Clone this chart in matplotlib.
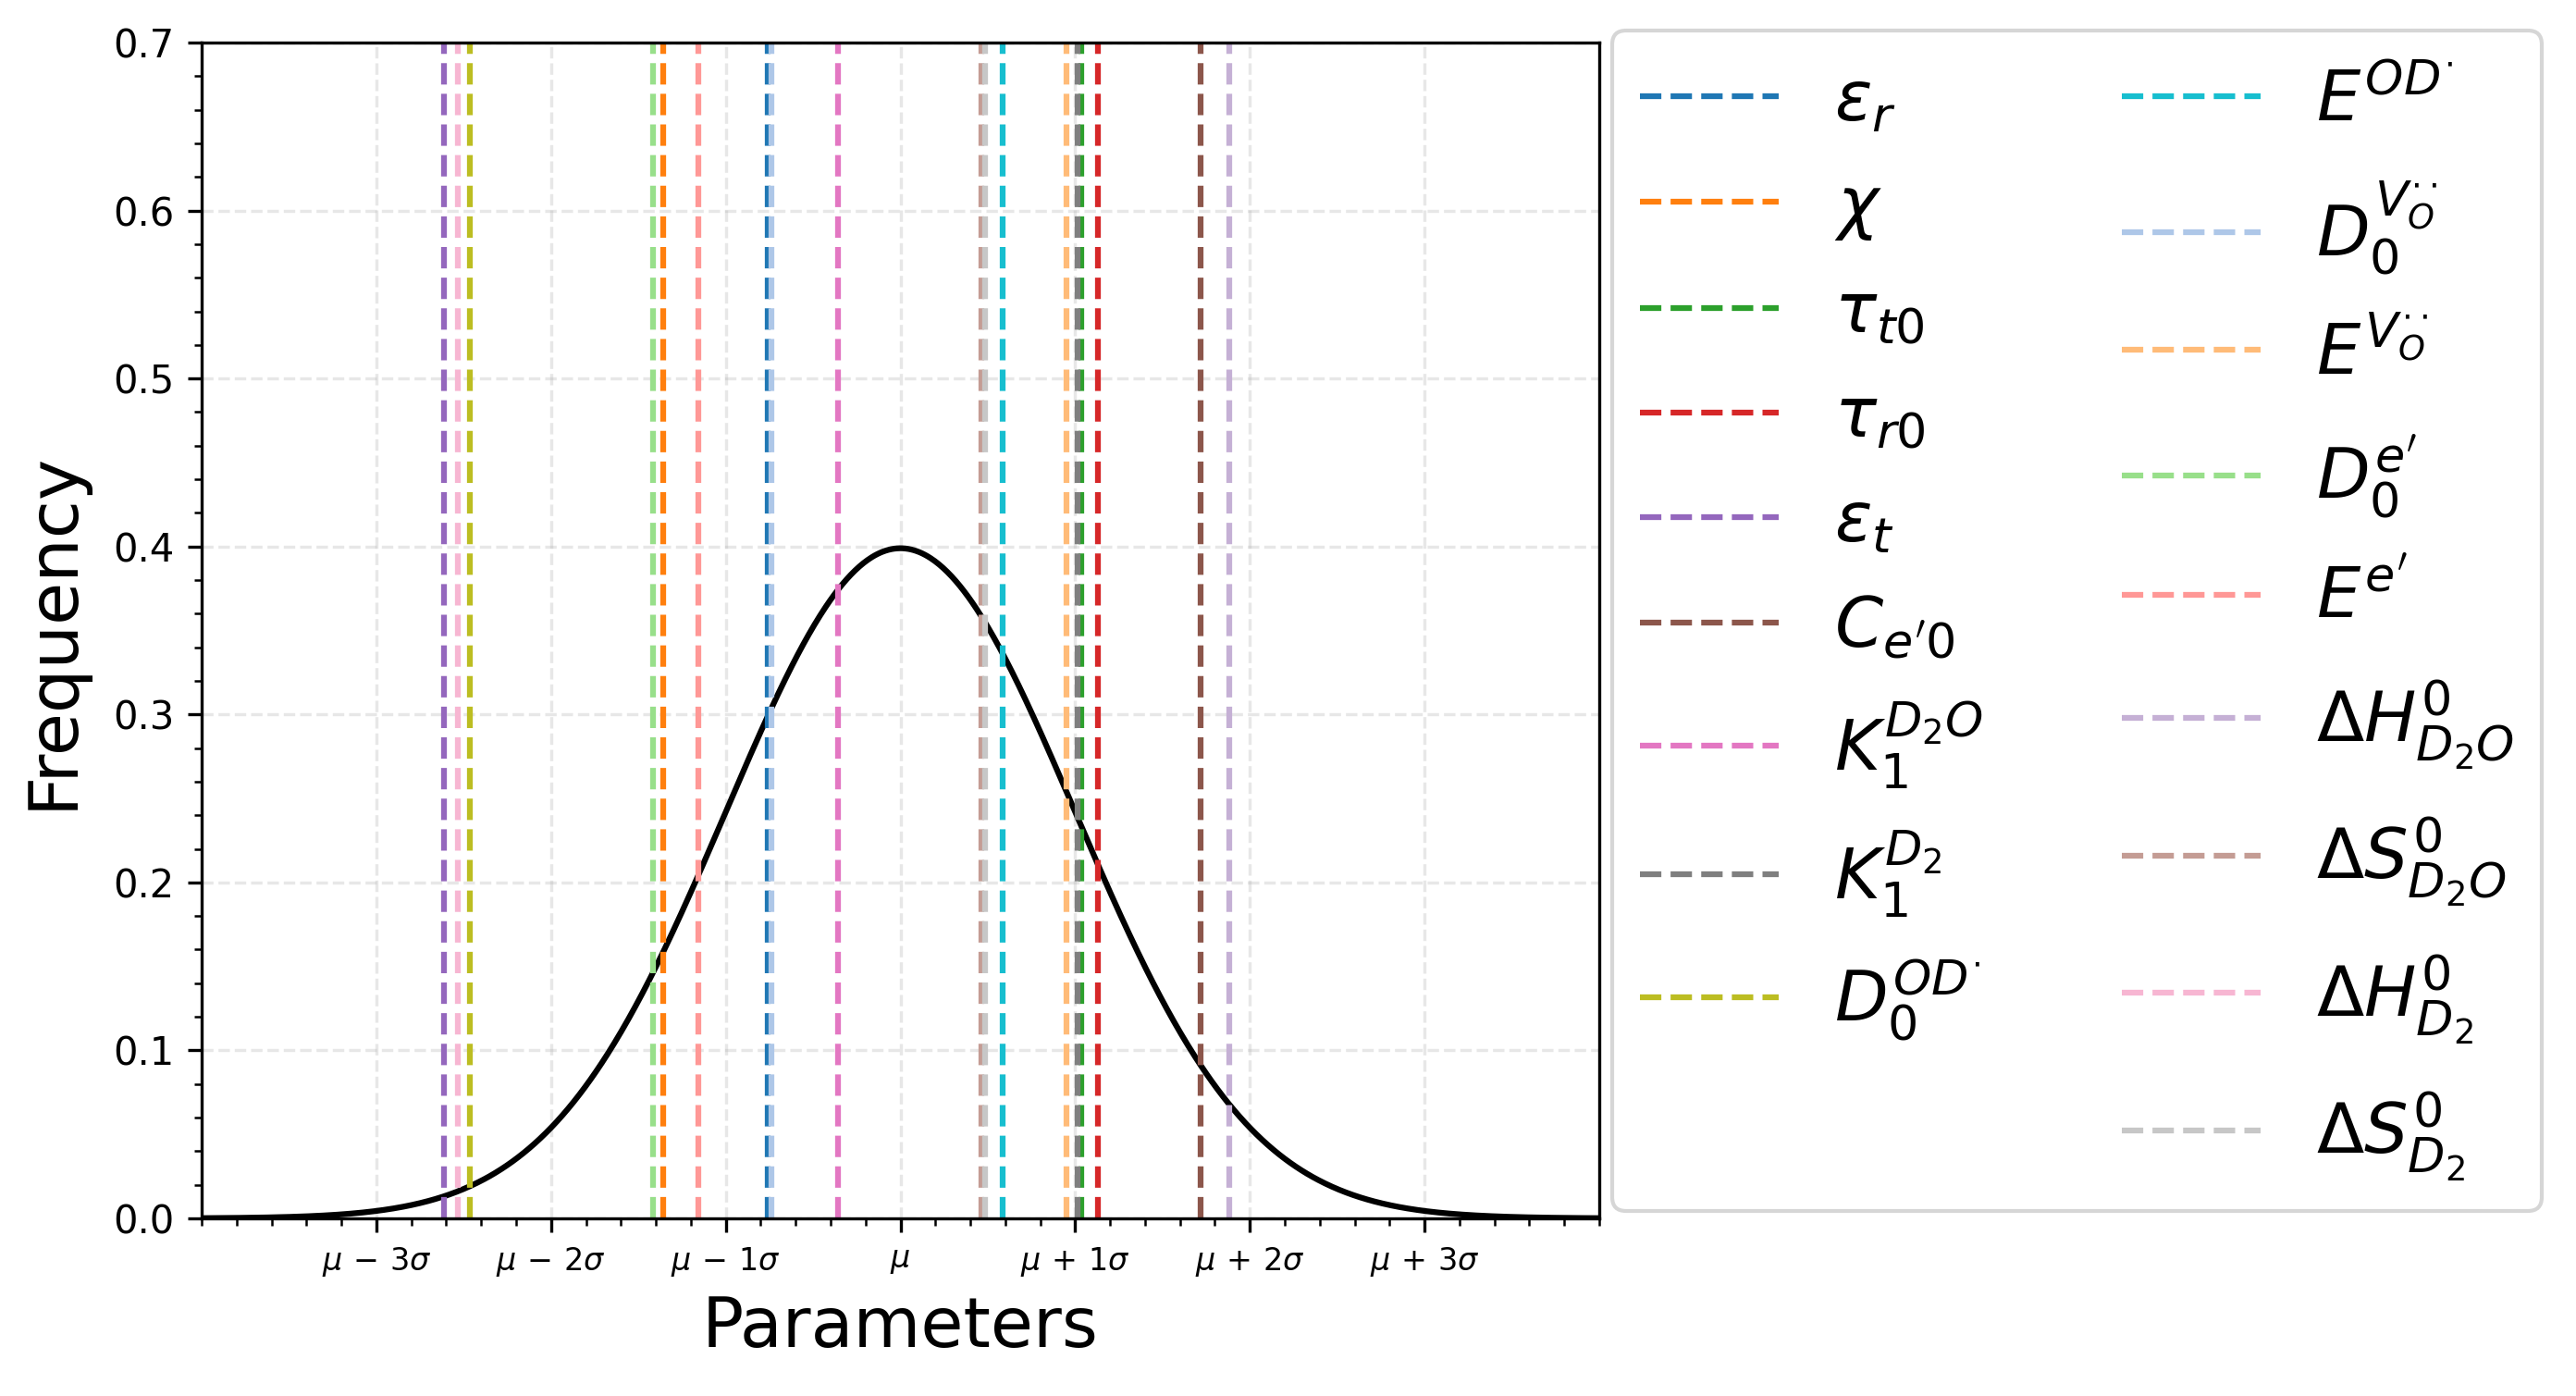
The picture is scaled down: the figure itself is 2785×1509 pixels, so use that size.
import numpy as np
import matplotlib
matplotlib.use("Agg")
import matplotlib.pyplot as plt
from matplotlib.ticker import AutoMinorLocator

# ---- data ----
mu = 0.0
sigma = 1.0
param_labels = [
    r'$\varepsilon_r$', r'$\chi$', r'$\tau_{t0}$', r'$\tau_{r0}$', r'$\varepsilon_t$',
    r"$C_{e'0}$", r'$K_1^{D_2O}$', r'$K_1^{D_2}$', r'$D_0^{OD^{\cdot}}$',
    r'$E^{OD^{\cdot}}$', r'$D_0^{V_O^{\cdot\cdot}}$', r'$E^{V_O^{\cdot\cdot}}$',
    r"$D_0^{e'}$", r"$E^{e'}$", r'$\Delta H_{D_2O}^0$', r'$\Delta S_{D_2O}^0$',
    r'$\Delta H_{D_2}^0$', r'$\Delta S_{D_2}^0$',
]
param_positions = [
    -0.76, -1.36, 1.037, 1.13, -2.612,
    1.718, -0.358, 1.013, -2.464,
    0.584, -0.737, 0.951,
    -1.417, -1.158, 1.882, 0.464,
    -2.533, 0.485,
]
param_colors = [
    '#1f77b4', '#ff7f0e', '#2ca02c', '#d62728', '#9467bd',
    '#8c564b', '#e377c2', '#7f7f7f', '#bcbd22',
    '#17becf', '#aec7e8', '#ffbb78',
    '#98df8a', '#ff9896', '#c5b0d5', '#c49c94',
    '#f7b6d2', '#c7c7c7',
]
tick_values = [-3, -2, -1, 0, 1, 2, 3]
tick_labels = [r'$\mu \,-\, 3\sigma$', r'$\mu \,-\, 2\sigma$', r'$\mu \,-\, 1\sigma$', r'$\mu$',
               r'$\mu \,+\, 1\sigma$', r'$\mu \,+\, 2\sigma$', r'$\mu \,+\, 3\sigma$']

# ---- figure ----
W, H, DPI = 2785, 1509, 300
fig = plt.figure(figsize=(W / DPI, H / DPI), dpi=DPI)
ax = fig.add_axes([0.07828, 0.12724, 0.62083 - 0.07828, 0.96952 - 0.12724])

x = np.linspace(mu - 4 * sigma, mu + 4 * sigma, 1000)
pdf = np.exp(-0.5 * ((x - mu) / sigma) ** 2) / (sigma * np.sqrt(2 * np.pi))
ax.plot(x, pdf, color='black', lw=1.5)

for pos, lab, col in zip(param_positions, param_labels, param_colors):
    ax.axvline(mu + pos * sigma, color=col, linestyle='--', lw=1.5, label=lab)

ax.set_xlim(mu - 4 * sigma, mu + 4 * sigma)
ax.set_ylim(0, 0.7)
ax.set_xticks([mu + t * sigma for t in tick_values])
ax.set_xticklabels(tick_labels, fontsize=8)
ax.tick_params(axis='y', labelsize=10)
ax.xaxis.set_minor_locator(AutoMinorLocator(5))
ax.yaxis.set_minor_locator(AutoMinorLocator(5))
ax.grid(True, linestyle='--', alpha=0.3)
ax.set_xlabel('Parameters', fontsize=18)
ax.set_ylabel('Frequency', fontsize=18, labelpad=7)

leg = ax.legend(ncol=2, fontsize=18, loc='upper left',
                bbox_to_anchor=(0.62585, 0.97813), bbox_transform=fig.transFigure,
                borderaxespad=0)

# fine-tune legend row spacing to match the reference's taller math labels
try:
    cols = leg._legend_handle_box.get_children()
    cols[0].sep += 0.66
    cols[1].sep += 2.4
    first_handle = cols[0].get_children()[0].get_children()[0]
    first_handle.height += 3.6
except Exception:
    pass

fig.savefig('out.png', dpi=DPI)
